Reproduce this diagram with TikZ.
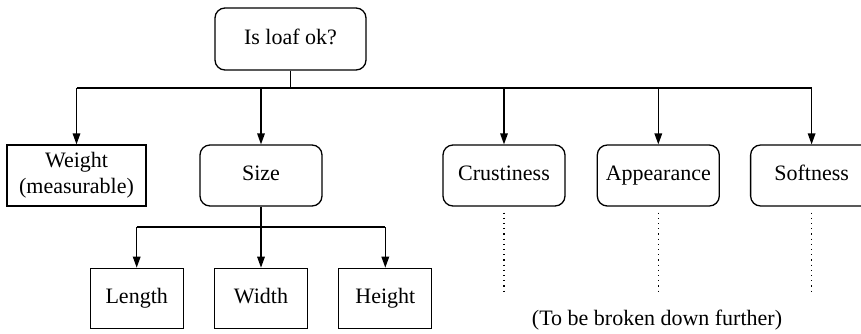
\documentclass[tikz,border=0pt]{standalone}
\usepackage{fontspec}
\setmainfont{Liberation Serif}
\usetikzlibrary{arrows.meta, positioning}

\begin{document}
\begin{tikzpicture}[
  x=0.5pt, y=-0.5pt,
  font=\fontsize{11}{13}\selectfont,
  >={Triangle[length=5.5pt, width=3.8pt]},
  crit/.style={draw, line width=0.65pt, rounded corners=5pt,
               minimum width=61pt, minimum height=30.5pt,
               text height=7.5pt, text depth=2.4pt,
               align=center, inner sep=2pt},
  leaf/.style={draw, line width=0.65pt,
               minimum width=46.5pt, minimum height=30pt,
               text height=7.5pt, text depth=2.4pt,
               align=center, inner sep=2pt},
  line/.style={line width=0.65pt},
  arr/.style={->, line width=0.65pt},
  more/.style={dotted, line width=0.6pt},
  node distance=15pt,
]
\useasboundingbox (0,0) rectangle (861,333);

% root question
\node[crit, minimum width=75.5pt, minimum height=31pt] (loaf) at (290.5,39) {Is loaf ok?};

% first level of criteria
\node[leaf, text height={}, text depth={}, minimum width=69.5pt, minimum height=30.5pt]
  (weight) at (76.5,175.5) {Weight\\(measurable)};
\node[crit] (size)  at (261,175.5) {Size};
\node[crit] (crust) at (504,175.5) {Crustiness};
\node[crit, right=15.5pt of crust]  (appear) {Appearance};
\node[crit, right=15pt of appear]   (soft)   {Softness};

% size split into dimensions
\node[leaf, below=30.5pt of size] (width)  {Width};
\node[leaf, left=of width]        (length) {Length};
\node[leaf, right=of width]       (height) {Height};

\node (note) at (657,320) {(To be broken down further)};

% bus lines
\coordinate (bus)  at (290.5,88);
\coordinate (sbus) at (261,227);

\draw[line] (loaf.south) -- (bus);
\draw[line] (weight.north |- bus) -- (soft.north |- bus);
\foreach \c in {weight, size, crust, appear, soft}
  \draw[arr] (\c.north |- bus) -- (\c.north);

\draw[line] (size.south) -- (sbus);
\draw[line] (length.north |- sbus) -- (height.north |- sbus);
\foreach \c in {length, width, height}
  \draw[arr] (\c.north |- sbus) -- (\c.north);

% not yet refined
\foreach \c in {crust, appear, soft}
  \draw[more, shorten <=3pt, shorten >=6pt] (\c.south) -- (\c.south |- note.north);
\end{tikzpicture}
\end{document}
